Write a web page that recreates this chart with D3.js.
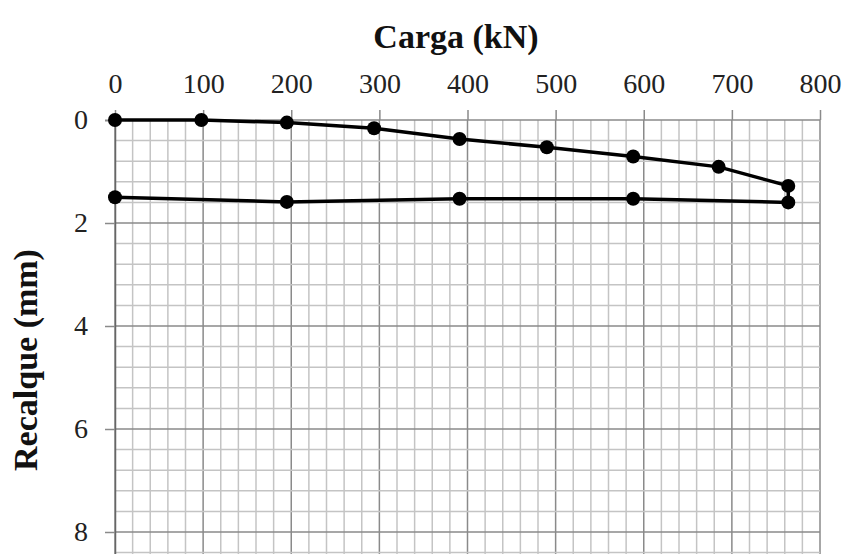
<!DOCTYPE html>
<html lang="en">
<head>
    <meta charset="UTF-8">
    <title>Carga x Recalque</title>
</head>
<script src="https://d3js.org/d3.v7.min.js"></script>
<style>
        body { margin:0; background:#fff; }
        svg { display:block; font-family:"Liberation Serif", "Times New Roman", serif; }
</style>

<body onload='init()'>
    <svg width=846 height=554>
    </svg>

    <script>
        // carga (kN) e recalque (mm) - carregamento seguido de descarregamento
        const cargaCarreg = [0, 98, 195, 294, 391, 490, 588, 685, 764];
        const recalqueCarreg = [0, 0, 0.05, 0.16, 0.37, 0.53, 0.71, 0.91, 1.28];
        const cargaDescarreg = [764, 588, 391, 195, 0];
        const recalqueDescarreg = [1.60, 1.53, 1.53, 1.59, 1.50];

        const xTicks = [0, 100, 200, 300, 400, 500, 600, 700, 800];
        const yTicks = [0, 2, 4, 6, 8];

        function init() {
            const svg = d3.select("svg");

            var x = d3.scaleLinear().domain([0, 800]).range([115, 820]);
            var y = d3.scaleLinear().domain([0, 10]).range([120, 635]);

            const minorX = d3.range(0, 801, 20);
            const minorY = d3.range(0, 10.01, 0.4);

            const grid = svg.append("g");
            grid.selectAll("line.vx")
                .data(minorX)
                .enter()
                .append("line")
                .attr("x1", d => x(d)).attr("x2", d => x(d))
                .attr("y1", y(0)).attr("y2", y(10))
                .attr("stroke", d => d % 100 === 0 ? "#8a8a8a" : "#c4c4c4")
                .attr("stroke-width", 1.5);
            grid.selectAll("line.hy")
                .data(minorY)
                .enter()
                .append("line")
                .attr("x1", x(0)).attr("x2", x(800))
                .attr("y1", d => y(d)).attr("y2", d => y(d))
                .attr("stroke", d => Math.abs(d / 2 - Math.round(d / 2)) < 1e-6 ? "#8a8a8a" : "#c4c4c4")
                .attr("stroke-width", 1.5);

            // eixo superior
            const gx = svg.append("g")
                .attr("transform", "translate(0," + y(0) + ")")
                .call(d3.axisTop(x).tickValues(xTicks).tickSize(10).tickPadding(17));
            gx.select(".domain").remove();
            gx.selectAll("line").attr("stroke", "#8a8a8a").attr("stroke-width", 1.5);
            gx.selectAll("text").style("font-size", "28px").attr("fill", "#222")
                .style("font-family", "Liberation Serif");

            // eixo esquerdo
            const gy = svg.append("g")
                .attr("transform", "translate(" + x(0) + ",0)")
                .call(d3.axisLeft(y).tickValues(yTicks).tickSize(10).tickPadding(17));
            gy.select(".domain").attr("stroke", "#666").attr("stroke-width", 1.5);
            gy.selectAll("line").attr("stroke", "#8a8a8a").attr("stroke-width", 1.5);
            gy.selectAll("text").style("font-size", "28px").attr("fill", "#222")
                .style("font-family", "Liberation Serif");

            svg.append("text")
                .attr("x", 456)
                .attr("y", 48)
                .attr("text-anchor", "middle")
                .style("font-size", "34px")
                .style("font-weight", "bold")
                .attr("fill", "#111")
                .text("Carga (kN)");

            svg.append("text")
                .attr("transform", "translate(37,360) rotate(-90)")
                .attr("text-anchor", "middle")
                .style("font-size", "34px")
                .style("font-weight", "bold")
                .attr("fill", "#111")
                .text("Recalque (mm)");

            const pts = cargaCarreg.map((c, i) => [c, recalqueCarreg[i]])
                .concat(cargaDescarreg.map((c, i) => [c, recalqueDescarreg[i]]));

            svg.append("path")
                .datum(pts)
                .attr("fill", "none")
                .attr("stroke", "#000")
                .attr("stroke-width", 3.5)
                .attr("d", d3.line().x(d => x(d[0])).y(d => y(d[1])));

            svg.append("g")
                .selectAll("circle")
                .data(pts)
                .enter()
                .append("circle")
                .attr("cx", d => x(d[0]))
                .attr("cy", d => y(d[1]))
                .attr("r", 7)
                .attr("fill", "#000");
        }
    </script>
</body>
</html>
